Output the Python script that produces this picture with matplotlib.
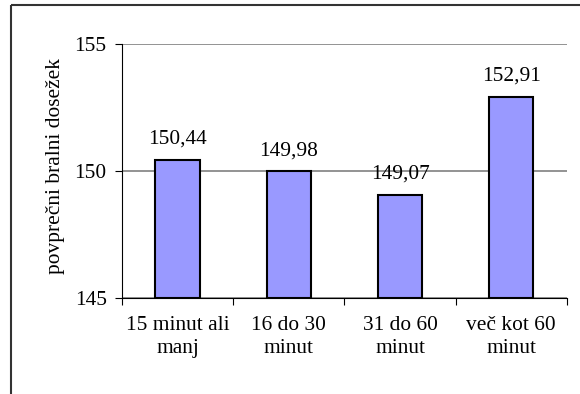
import matplotlib.pyplot as plt
from matplotlib.lines import Line2D

# chart data
categories = ['15 minut ali\nmanj', '16 do 30\nminut', '31 do 60\nminut', 'več kot 60\nminut']
values = [150.44, 149.98, 149.07, 152.91]
value_labels = ['150,44', '149,98', '149,07', '152,91']
y_ticks = [145, 150, 155]

plt.rcParams['font.family'] = ['Liberation Serif', 'DejaVu Serif']
fs = 15.4

fig = plt.figure(figsize=(5.8, 3.94), dpi=100)
ax = fig.add_axes([0.2103, 0.2437, 0.767, 0.6447])

x = list(range(len(values)))
ax.bar(x, [v - 145 for v in values], bottom=145, width=0.4,
       color='#9999FF', edgecolor='black', linewidth=1.5, zorder=3)

for xi, v, lab in zip(x, values, value_labels):
    ax.annotate(lab, (xi, v), xytext=(0, 8), textcoords='offset points',
                ha='center', va='bottom', fontsize=fs)

ax.set_ylim(145, 155)
ax.set_xlim(-0.5, 3.5)
ax.set_yticks(y_ticks)
ax.set_yticklabels([str(t) for t in y_ticks], fontsize=fs)
ax.yaxis.grid(True, color='#808080', linewidth=1.2, zorder=0)
ax.tick_params(axis='y', length=5, width=0.8, pad=6)

# category boundaries get the tick marks, labels sit at centres
ax.set_xticks([-0.5, 0.5, 1.5, 2.5, 3.5])
ax.set_xticklabels([])
ax.tick_params(axis='x', which='major', length=5, width=0.8)
ax.set_xticks(x, minor=True)
ax.set_xticklabels(categories, minor=True, fontsize=fs, linespacing=1.3)
ax.tick_params(axis='x', which='minor', length=0, pad=13)

ax.spines['top'].set_visible(False)
ax.spines['right'].set_visible(False)
ax.spines['left'].set_linewidth(0.8)
ax.spines['bottom'].set_linewidth(0.8)

ax.set_ylabel('povprečni bralni dosežek', fontsize=fs)
ax.yaxis.set_label_coords(-0.128, 0.52)

# outer chart frame (right and bottom edges fall outside the picture)
fig.add_artist(Line2D([11 / 580, 1], [1 - 5 / 394, 1 - 5 / 394],
                      transform=fig.transFigure, color='#333333',
                      linewidth=1.5, solid_capstyle='butt'))
fig.add_artist(Line2D([11 / 580, 11 / 580], [0, 1 - 5 / 394],
                      transform=fig.transFigure, color='#333333',
                      linewidth=1.5, solid_capstyle='butt'))

fig.savefig('out.png', dpi=100)
